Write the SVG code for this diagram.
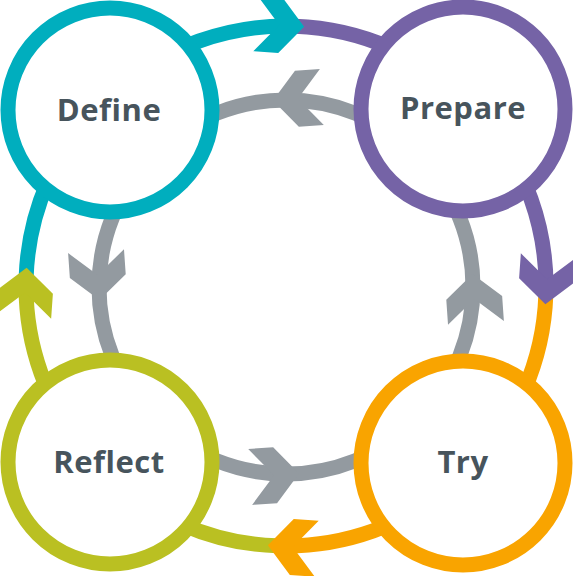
<svg xmlns="http://www.w3.org/2000/svg" width="573" height="576" viewBox="0 0 573 576">
<style>
.seg{fill:none;stroke-width:15;stroke-linecap:butt}
.ring{fill:none;stroke:#939AA0;stroke-width:15}
.node{fill:#FFFFFF;stroke-width:15}
.lbl{font-family:"Open Sans","Liberation Sans",sans-serif;font-weight:700;font-size:31px;letter-spacing:0.5px;fill:#47545C;text-anchor:middle}
</style>
<defs>
<polygon id="chev" points="0,0 -24,-28 -49,-28 -25,0 -49,28 -24,28"/>
</defs>
<g id="connectors">
<circle class="ring" cx="286" cy="287" r="187"/>
<use href="#chev" fill="#939AA0" transform="translate(272.96,100.46) rotate(176)"/>
<use href="#chev" fill="#939AA0" transform="translate(99.46,300.04) rotate(86)"/>
<use href="#chev" fill="#939AA0" transform="translate(299.04,473.54) rotate(-4)"/>
<use href="#chev" fill="#939AA0" transform="translate(472.54,273.96) rotate(266)"/>
<path class="seg" stroke="#00AEBE" d="M26.16,276.93 A260,260 0 0 1 295.07,26.16"/>
<path class="seg" stroke="#7563A6" d="M295.07,26.16 A260,260 0 0 1 545.84,295.07"/>
<path class="seg" stroke="#F9A400" d="M545.84,295.07 A260,260 0 0 1 276.93,545.84"/>
<path class="seg" stroke="#BAC022" d="M276.93,545.84 A260,260 0 0 1 26.16,276.93"/>
<use href="#chev" fill="#00AEBE" transform="translate(304.14,26.63) rotate(4)"/>
<use href="#chev" fill="#7563A6" transform="translate(545.37,304.14) rotate(94)"/>
<use href="#chev" fill="#F9A400" transform="translate(267.86,545.37) rotate(184)"/>
<use href="#chev" fill="#BAC022" transform="translate(26.63,267.86) rotate(274)"/>
</g>
<g id="define">
<circle class="node" stroke="#00AEBE" cx="110" cy="110" r="102"/>
<text class="lbl" x="109" y="121">Define</text>
</g>
<g id="prepare">
<circle class="node" stroke="#7563A6" cx="463" cy="109" r="102"/>
<text class="lbl" x="463" y="119">Prepare</text>
</g>
<g id="reflect">
<circle class="node" stroke="#BAC022" cx="110" cy="462" r="102"/>
<text class="lbl" x="109" y="473">Reflect</text>
</g>
<g id="try">
<circle class="node" stroke="#F9A400" cx="463" cy="463" r="102"/>
<text class="lbl" x="463" y="473">Try</text>
</g>
</svg>
